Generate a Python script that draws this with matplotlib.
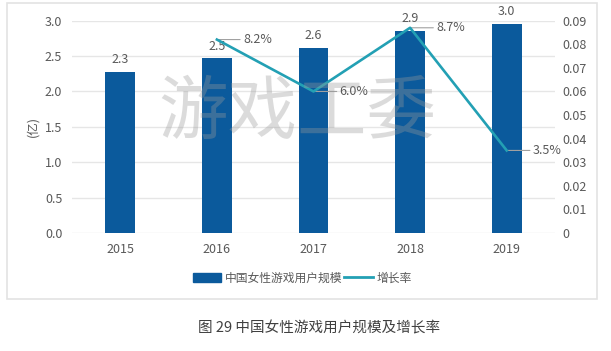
import matplotlib
matplotlib.use('Agg')
import matplotlib.pyplot as plt
import matplotlib.patches as mpatches
import numpy as np

plt.rcParams['font.family'] = ['Noto Sans CJK SC', 'DejaVu Sans']

# data
years = ['2015', '2016', '2017', '2018', '2019']
users = [2.28, 2.47, 2.62, 2.86, 2.96]          # 亿
growth_years = ['2016', '2017', '2018', '2019']
growth = [0.082, 0.060, 0.087, 0.035]
growth_labels = ['8.2%', '6.0%', '8.7%', '3.5%']

bar_color = '#0b5a9c'
line_color = '#23a0b4'
text_color = '#595959'

fig = plt.figure(figsize=(6.11, 3.51), dpi=100)
ax = fig.add_axes([72 / 611, 1 - 233 / 351, (555 - 72) / 611, (233 - 20.7) / 351])

# outer frame
fig.patches.append(mpatches.Rectangle((7 / 611, 1 - 299 / 351), 590 / 611, 296 / 351,
                                      transform=fig.transFigure, fill=False,
                                      edgecolor='#e3e3e3', lw=1.2))

x = np.arange(len(years))
ax.bar(x, users, width=0.31, color=bar_color, zorder=3)
for xi, v in zip(x, users):
    ax.annotate(f'{v:.1f}', (xi, v), xytext=(0, 12), textcoords='offset pixels',
                ha='center', va='center', fontsize=9, color=text_color)

ax.set_xlim(-0.5, len(years) - 0.5)
ax.set_ylim(0, 3.0)
ax.set_yticks(np.arange(0, 3.01, 0.5))
ax.set_yticklabels([f'{t:.1f}' for t in np.arange(0, 3.01, 0.5)])
ax.set_xticks(x)
ax.set_xticklabels(years)
ax.tick_params(length=0, labelsize=9, colors=text_color)
ax.tick_params(axis='y', pad=7)
ax.tick_params(axis='x', pad=7)
ax.grid(axis='y', color='#e6e6e6', lw=1, zorder=0)
for s in ax.spines.values():
    s.set_visible(False)
ax.set_ylabel('(亿)', fontsize=9, color=text_color, labelpad=4)

ax2 = ax.twinx()
gx = [years.index(y) for y in growth_years]
ax2.plot(gx, growth, color=line_color, lw=1.9, zorder=4)
for xi, v, lab in zip(gx, growth, growth_labels):
    ax2.annotate(lab, (xi, v), xytext=(26, 0), textcoords='offset pixels',
                 ha='left', va='center', fontsize=9, color=text_color,
                 arrowprops=dict(arrowstyle='-', color='#a0a0a0', lw=0.8,
                                 shrinkA=0, shrinkB=1))
ax2.set_ylim(0, 0.09)
rticks = np.arange(0, 0.0901, 0.01)
ax2.set_yticks(rticks)
ax2.set_yticklabels(['0'] + [f'{t:.2f}' for t in rticks[1:]])
ax2.tick_params(length=0, labelsize=9, colors=text_color, pad=5)
for s in ax2.spines.values():
    s.set_visible(False)

# legend
handles = [mpatches.Patch(color=bar_color, label='中国女性游戏用户规模'),
           plt.Line2D([], [], color=line_color, lw=2, label='增长率')]
fig.legend(handles=handles, loc='center', bbox_to_anchor=(302 / 611, 1 - 278 / 351),
           ncol=2, frameon=False, fontsize=8.5, handlelength=2.4, handletextpad=0.3,
           columnspacing=0.2, labelcolor=text_color)

# watermark
fig.text(297 / 611, 1 - 113 / 351, '游戏工委', fontsize=50, color='#9a9a9a', alpha=0.35,
         ha='center', va='center', zorder=10)

# caption
fig.text(319 / 611, 1 - 328 / 351, '图 29 中国女性游戏用户规模及增长率', fontsize=10.5,
         color='#404040', ha='center', va='center')

fig.savefig('out.png', dpi=100)
